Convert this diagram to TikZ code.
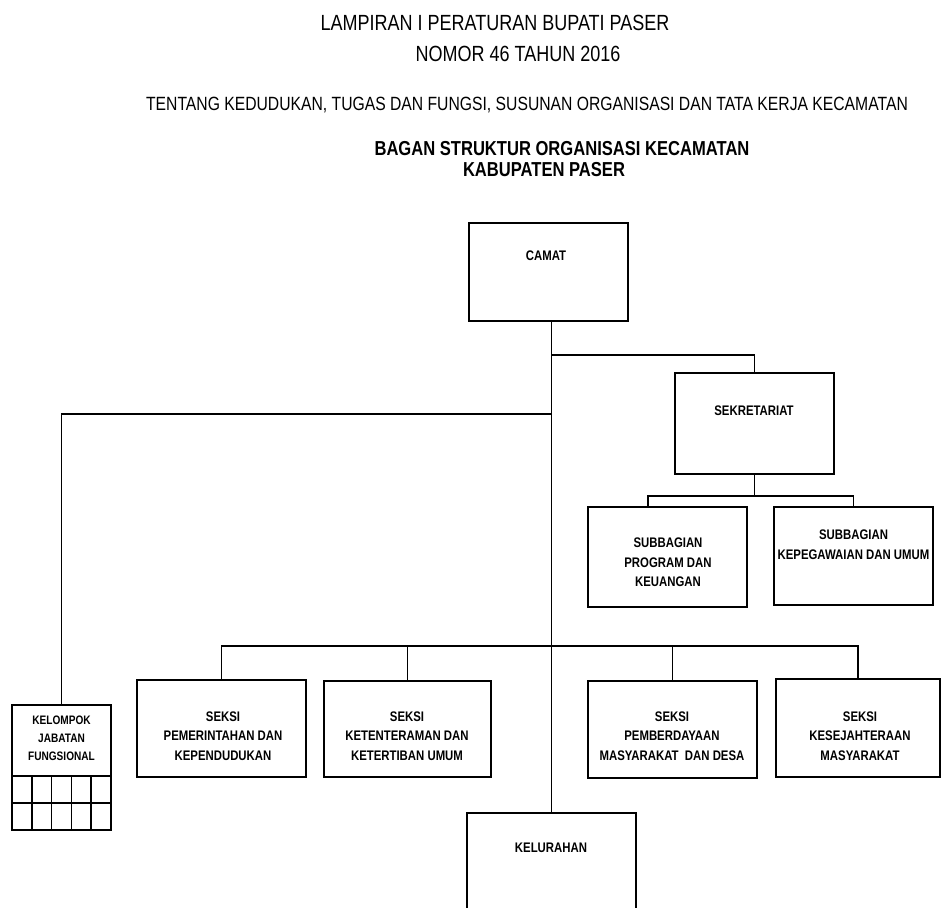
\documentclass[tikz,border=0pt]{standalone}
\usepackage{fontspec}
\setmainfont{Liberation Sans}[FakeStretch=0.82]

\tikzset{
  kotak/.style={draw, line width=1pt, rectangle, inner sep=0pt},
  isi/.style={font=\bfseries\fontsize{7.9}{11.2}\selectfont, align=center, inner sep=0pt},
  judul/.style={font=\fontsize{12.5}{14}\selectfont, inner sep=0pt},
  garis/.style={line width=1pt}
}

\begin{document}
\begin{tikzpicture}[x=0.02cm, y=-0.02cm]
\useasboundingbox (0,0) rectangle (942,907);
\clip (0,0) rectangle (942,907);

% judul
\node[judul] (lampiran) at (495,23) {LAMPIRAN I PERATURAN BUPATI PASER};
\node[judul] (nomor) at (518,53.5) {NOMOR 46 TAHUN 2016};
\node[font=\fontsize{10.9}{12}\selectfont, inner sep=0pt] (tentang) at (527,105.5)
  {TENTANG KEDUDUKAN, TUGAS DAN FUNGSI, SUSUNAN ORGANISASI DAN TATA KERJA KECAMATAN};
\node[font=\bfseries\fontsize{11.5}{13}\selectfont, inner sep=0pt] (bagan) at (562,148.5)
  {BAGAN STRUKTUR ORGANISASI KECAMATAN};
\node[font=\bfseries\fontsize{11.5}{13}\selectfont, inner sep=0pt] (kabupaten) at (544,170)
  {KABUPATEN PASER};

% kotak
\node[kotak, minimum width=3.18cm, minimum height=1.96cm] (camat) at (548.5,272) {};
\node[kotak, minimum width=3.18cm, minimum height=2.02cm] (sekretariat) at (754.5,423.5) {};
\node[kotak, minimum width=3.18cm, minimum height=2.0cm] (subprog) at (667.5,557) {};
\node[kotak, minimum width=3.18cm, minimum height=1.96cm] (subpeg) at (853.5,556) {};
\node[kotak, minimum width=1.98cm, minimum height=2.5cm] (jafung) at (61.5,767.5) {};
\node[kotak, minimum width=3.38cm, minimum height=1.94cm] (pem) at (221.5,728.5) {};
\node[kotak, minimum width=3.34cm, minimum height=1.92cm] (ket) at (407.5,729) {};
\node[kotak, minimum width=3.38cm, minimum height=1.94cm] (pmd) at (672.5,729.5) {};
\node[kotak, minimum width=3.28cm, minimum height=1.96cm] (kesra) at (858,728) {};
\node[kotak, minimum width=3.38cm, minimum height=2.28cm] (kelurahan) at (551.5,870) {};

% tulisan
\node[isi] (camat-t) at (546,256) {CAMAT};
\node[isi] (sek-t) at (754,411) {SEKRETARIAT};
\node[isi] (subprog-t) at (668,562.5) {SUBBAGIAN\\PROGRAM DAN\\KEUANGAN};
\node[isi] (subpeg-t) at (853.5,545) {SUBBAGIAN\\KEPEGAWAIAN DAN UMUM};
\node[isi] (pem-t) at (223,736) {SEKSI\\PEMERINTAHAN DAN\\KEPENDUDUKAN};
\node[isi] (ket-t) at (407,736) {SEKSI\\KETENTERAMAN DAN\\KETERTIBAN UMUM};
\node[isi] (pmd-t) at (672,736) {SEKSI\\PEMBERDAYAAN\\MASYARAKAT \ DAN DESA};
\node[isi] (kesra-t) at (860,736) {SEKSI\\KESEJAHTERAAN\\MASYARAKAT};
\node[isi] (kel-t) at (551,847.5) {KELURAHAN};
\node[isi, font=\bfseries\fontsize{7}{10.2}\selectfont] (jafung-t) at (61.5,738)
  {KELOMPOK\\JABATAN\\FUNGSIONAL};

% kotak kecil jabatan fungsional
\draw[garis] (12,776) -- (111,776);
\draw[garis] (12,803) -- (111,803);
\foreach \x in {31.8,51.6,71.4,91.2}
  \draw[garis] (\x,776) -- (\x,830);

% garis
\draw[garis] (camat.south -| kelurahan.north) -- (kelurahan.north);
\coordinate (cab-sek) at (552,355);
\draw[garis] (cab-sek) -| (sekretariat.north);
\coordinate (bus-sub) at (751,496);
\coordinate (tp-prog) at (648,507);
\draw[garis] (sekretariat.south) -- (sekretariat.south |- bus-sub);
\draw[garis] (tp-prog) |- (bus-sub) -| (subpeg.north);
\coordinate (cab-jf) at (552,414);
\draw[garis] (cab-jf) -| (jafung.north);
\coordinate (cab-seksi) at (552,646);
\draw[garis] (pem.north) |- (cab-seksi) -| (kesra.north);
\draw[garis] (ket.north) -- (ket.north |- cab-seksi);
\draw[garis] (pmd.north) -- (pmd.north |- cab-seksi);
\end{tikzpicture}
\end{document}
